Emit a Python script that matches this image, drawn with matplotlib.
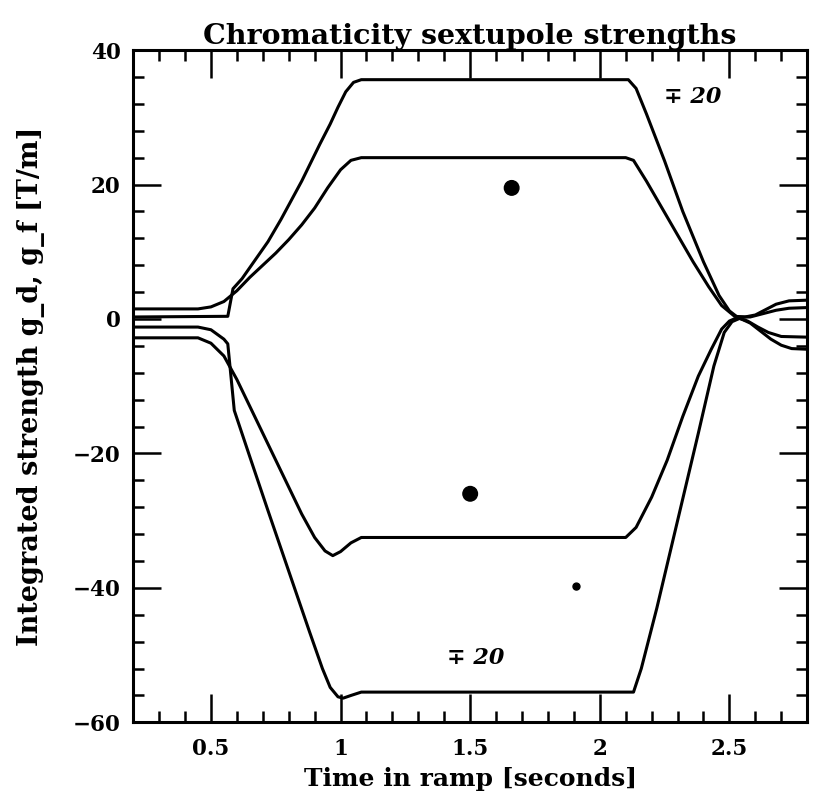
#!/usr/bin/env python3
"""Chromaticity sextupole strengths along the ramp (recreated figure)."""

import matplotlib
matplotlib.use("Agg")
import matplotlib.pyplot as plt
from matplotlib.ticker import MultipleLocator

# --------------------------------------------------------------------------- #
# Data                                           #
# --------------------------------------------------------------------------- #

# upper smooth curve, plateau ~ +24
g24_t = [0.20, 0.45, 0.50, 0.55, 0.60, 0.65, 0.70, 0.75, 0.80, 0.85, 0.90,
         0.95, 1.00, 1.04, 1.08, 2.10, 2.13, 2.18, 2.24, 2.30, 2.36, 2.42,
         2.47, 2.52, 2.56, 2.60, 2.64, 2.68, 2.73, 2.80]
g24_v = [1.5, 1.5, 1.8, 2.6, 4.2, 6.2, 8.0, 9.8, 11.8, 14.0, 16.5,
         19.5, 22.2, 23.6, 24.0, 24.0, 23.6, 20.5, 16.5, 12.5, 8.5, 4.8,
         2.0, 0.4, 0.3, 0.6, 1.4, 2.2, 2.7, 2.8]

# upper curve with the step at 0.57 s, plateau ~ +36
g36_t = [0.20, 0.565, 0.585, 0.62, 0.66, 0.72, 0.77, 0.85, 0.92, 0.96,
         0.99, 1.02, 1.05, 1.08, 2.11, 2.14, 2.18, 2.25, 2.32, 2.40, 2.46,
         2.50, 2.53, 2.58, 2.63, 2.68, 2.73, 2.80]
g36_v = [0.3, 0.4, 4.5, 6.0, 8.2, 11.5, 14.8, 20.5, 26.0, 29.0,
         31.5, 33.8, 35.2, 35.6, 35.6, 34.3, 30.5, 23.5, 16.0, 8.5, 3.5,
         1.2, 0.3, 0.3, 0.8, 1.3, 1.6, 1.7]

# lower smooth curve, plateau ~ -32.5
gm32_t = [0.20, 0.45, 0.50, 0.55, 0.60, 0.65, 0.70, 0.75, 0.80, 0.85,
          0.90, 0.94, 0.97, 1.00, 1.04, 1.08, 2.10, 2.14, 2.20, 2.26,
          2.32, 2.38, 2.43, 2.47, 2.50, 2.53, 2.57, 2.61, 2.65, 2.70, 2.80]
gm32_v = [-2.8, -2.8, -3.6, -5.5, -9.0, -13.0, -17.0, -21.0, -25.0, -29.0,
          -32.5, -34.5, -35.2, -34.6, -33.3, -32.5, -32.5, -31.0, -26.5, -21.0,
          -14.5, -8.5, -4.5, -1.5, -0.3, 0.2, -0.3, -1.2, -2.0, -2.6, -2.7]

# lower curve with the step at 0.57 s, plateau ~ -55.5
gm56_t = [0.20, 0.45, 0.50, 0.55, 0.565, 0.59, 0.65, 0.72, 0.80, 0.88,
          0.93, 0.96, 0.99, 1.01, 1.04, 1.08, 2.13, 2.16, 2.22, 2.30, 2.38,
          2.44, 2.48, 2.51, 2.54, 2.58, 2.62, 2.66, 2.70, 2.74, 2.80]
gm56_v = [-1.2, -1.2, -1.6, -3.0, -3.7, -13.6, -20.5, -28.5, -37.5, -46.5,
          -52.0, -54.8, -56.2, -56.4, -56.0, -55.5, -55.5, -52.0, -43.0, -30.0,
          -17.0, -7.0, -2.0, -0.4, 0.1, -0.6, -1.8, -3.0, -3.9, -4.4, -4.5]

# ink spots on the scanned original
spot_t = [1.66, 1.50, 1.91]
spot_v = [19.5, -26.0, -39.8]
spot_size = [110, 110, 25]

# handwritten notes
note_t = [2.36, 1.52]
note_v = [33.0, -50.5]
note_txt = ["\u2213 20", "\u2213 20"]

# --------------------------------------------------------------------------- #
# Plot                                                                        #
# --------------------------------------------------------------------------- #
plt.rcParams["font.family"] = ["DejaVu Serif"]
plt.rcParams["font.weight"] = "bold"
plt.rcParams["axes.titleweight"] = "bold"
plt.rcParams["axes.labelweight"] = "bold"

fig = plt.figure(figsize=(8.17, 8.08), dpi=100)
ax = fig.add_axes([0.163, 0.106, 0.825, 0.832])

for t, v in [(g24_t, g24_v), (g36_t, g36_v), (gm32_t, gm32_v), (gm56_t, gm56_v)]:
    ax.plot(t, v, color="black", lw=2.2, solid_joinstyle="round")

ax.scatter(spot_t, spot_v, s=spot_size, color="black", marker="o", zorder=3)
for t, v, s in zip(note_t, note_v, note_txt):
    ax.text(t, v, s, ha="center", va="center", fontsize=16,
            fontstyle="italic", fontweight="bold")

ax.set_xlim(0.2, 2.8)
ax.set_ylim(-60, 40)
ax.xaxis.set_major_locator(MultipleLocator(0.5))
ax.xaxis.set_minor_locator(MultipleLocator(0.1))
ax.yaxis.set_major_locator(MultipleLocator(20))
ax.yaxis.set_minor_locator(MultipleLocator(4))
ax.set_xticks([0.5, 1, 1.5, 2, 2.5])
ax.set_xticklabels(["0.5", "1", "1.5", "2", "2.5"])

ax.tick_params(which="both", direction="in", top=True, right=True,
               width=1.8, labelsize=15.5)
ax.tick_params(axis="x", pad=11)
ax.tick_params(axis="y", pad=9)
ax.tick_params(which="major", length=20)
ax.tick_params(which="minor", length=8)
for sp in ax.spines.values():
    sp.set_linewidth(2.2)

ax.set_title("Chromaticity sextupole strengths", fontsize=20.5, pad=4)
ax.set_xlabel("Time in ramp [seconds]", fontsize=18, labelpad=5)
ax.set_ylabel("Integrated strength g_d, g_f [T/m]", fontsize=19.5, labelpad=20)

fig.savefig("out.png", dpi=100)
